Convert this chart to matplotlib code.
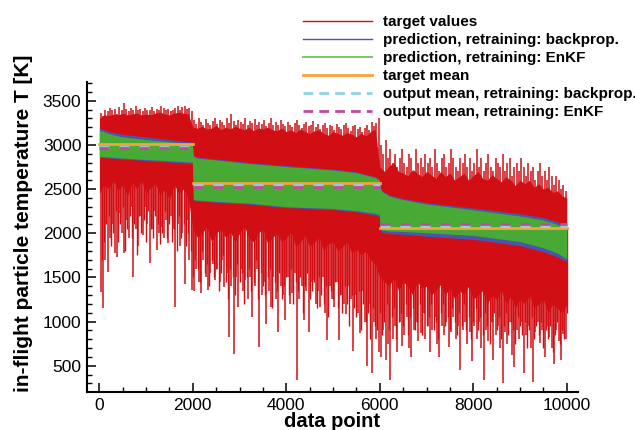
import numpy as np
import matplotlib
matplotlib.use('Agg')
import matplotlib.pyplot as plt
from matplotlib.lines import Line2D

plt.rcParams['font.family'] = ['Liberation Sans', 'DejaVu Sans']

# data point index where the three operating points begin / end
seg_edges = [0, 2000, 6000, 10000]

# target values: solid part of the red band, upper and lower edge (every 100 points)
env_x = np.arange(0, 10001, 100)
target_top = [3300, 3340, 3330, 3350, 3340, 3360, 3340, 3350, 3360, 3340,
              3350, 3340, 3360, 3370, 3350, 3340, 3360, 3370, 3360, 3350,
              3200, 3190, 3210, 3180, 3190, 3220, 3170, 3200, 3180, 3210,
              3190, 3170, 3200, 3160, 3190, 3180, 3200, 3170, 3160, 3190,
              3150, 3170, 3140, 3180, 3150, 3130, 3160, 3170, 3130, 3110,
              3150, 3130, 3110, 3140, 3120, 3090, 3130, 3100, 3150, 3180,
              2750, 2700, 2760, 2800, 2700, 2680, 2650, 2720, 2680, 2640,
              2700, 2660, 2620, 2700, 2640, 2680, 2600, 2640, 2680, 2600,
              2650, 2700, 2620, 2600, 2660, 2620, 2580, 2640, 2600, 2540,
              2600, 2560, 2600, 2520, 2560, 2500, 2520, 2460, 2480, 2420,
              2400]
target_core = [2450, 2550, 2500, 2600, 2480, 2550, 2420, 2580, 2500, 2600,
               2450, 2520, 2560, 2430, 2500, 2380, 2550, 2450, 2500, 2400,
               2050, 1950, 2000, 2080, 1900, 2000, 2050, 1950, 2020, 1900,
               2000, 2080, 1950, 1900, 2000, 2050, 1880, 1950, 2000, 1900,
               1950, 2020, 1850, 1900, 1980, 1850, 1900, 1950, 1800, 1880,
               1900, 1800, 1850, 1900, 1780, 1820, 1750, 1800, 1700, 1650,
               1500, 1450, 1400, 1500, 1350, 1450, 1400, 1300, 1450, 1380,
               1400, 1300, 1350, 1420, 1300, 1380, 1250, 1350, 1300, 1400,
               1250, 1300, 1350, 1200, 1300, 1250, 1350, 1200, 1280, 1150,
               1250, 1200, 1300, 1150, 1200, 1250, 1100, 1200, 1150, 1100,
               1200]

# single excursions of the target values, low and high end (every 50 points)
spike_x = np.arange(25, 10000, 50)
spike_lo = [1330, 1150, 1700, 1560, 1950, 2100, 1780, 1730, 2230, 2000,
            1780, 2150, 1950, 2300, 1500, 2050, 1850, 2200, 1980, 2300,
            2100, 1660, 2050, 2250, 1810, 2000, 2070, 1950, 2150, 1890,
            2200, 2050, 1170, 2100, 1850, 2000, 1430, 2150, 1700, 1360,
            1350, 1600, 1450, 1320, 1700, 1500, 1360, 1550, 1650, 1470,
            1600, 1450, 1700, 1390, 1550, 820, 1400, 630, 1500, 1170,
            1600, 1350, 1470, 1250, 1500, 1050, 1400, 1600, 710, 1300,
            1450, 970, 1350, 1170, 1500, 1250, 880, 1400, 1300, 1020,
            1500, 1200, 1320, 1550, 340, 1250, 1400, 1020, 1350, 880,
            1450, 1470, 1200, 1350, 1170, 1500, 1100, 790, 1400, 1250,
            1170, 1450, 790, 1300, 1200, 1090, 1400, 1250, 670, 1300,
            1100, 870, 1350, 1000, 500, 1200, 420, 1000, 800, 650,
            600, 900, 560, 750, 340, 800, 950, 650, 1000, 720,
            850, 1050, 700, 600, 900, 1000, 780, 870, 1100, 800,
            950, 660, 900, 1050, 750, 600, 950, 850, 1000, 715,
            880, 1050, 800, 950, 450, 900, 1000, 750, 880, 550,
            950, 800, 1000, 700, 340, 900, 780, 1000, 560, 850,
            950, 700, 300, 880, 750, 1000, 620, 490, 900, 800,
            1000, 420, 850, 950, 700, 310, 880, 1000, 760, 900,
            600, 950, 820, 700, 520, 900, 780, 560, 860, 800]
spike_hi = [3360, 3330, 3400, 3380, 3420, 3390, 3410, 3350, 3430, 3400,
            3470, 3410, 3380, 3420, 3400, 3440, 3390, 3410, 3380, 3420,
            3400, 3390, 3430, 3380, 3410, 3400, 3440, 3420, 3390, 3410,
            3380, 3400, 3420, 3440, 3400, 3430, 3440, 3410, 3420, 3380,
            3280, 3240, 3300, 3260, 3230, 3290, 3250, 3220, 3270, 3310,
            3240, 3280, 3260, 3230, 3300, 3250, 3350, 3270, 3230, 3280,
            3260, 3240, 3300, 3220, 3270, 3250, 3290, 3230, 3260, 3240,
            3280, 3210, 3250, 3300, 3230, 3260, 3220, 3280, 3240, 3210,
            3260, 3230, 3200, 3250, 3280, 3220, 3190, 3240, 3260, 3210,
            3230, 3270, 3200, 3240, 3180, 3220, 3250, 3190, 3230, 3210,
            3170, 3240, 3200, 3180, 3220, 3250, 3190, 3160, 3210, 3230,
            3180, 3200, 3150, 3190, 3230, 3170, 3260, 3210, 3250, 3300,
            3000, 2900, 3050, 2850, 2950, 2800, 2900, 2750, 2850, 2950,
            2800, 2750, 2900, 2850, 2700, 2950, 2800, 2850, 2750, 2900,
            2800, 2850, 2750, 2950, 2800, 2700, 2850, 2900, 2750, 2800,
            2950, 2850, 2750, 2700, 2850, 2800, 2900, 2750, 2850, 2700,
            2800, 2950, 2750, 2850, 2700, 2800, 2900, 2750, 2700, 2850,
            2800, 2750, 2900, 2700, 2800, 2850, 2650, 2750, 2800, 2700,
            2850, 2750, 2650, 2800, 2700, 2750, 2600, 2700, 2800, 2650,
            2700, 2600, 2750, 2650, 2550, 2650, 2600, 2500, 2550, 2480]

# shorter downward excursions in between (every 50 points)
spike2_x = np.arange(50, 10001, 50)
spike2_lo = [1700, 1900, 2100, 2200, 1850, 2000, 2250, 1900, 2100, 2300,
             1800, 2050, 2200, 1950, 2100, 1750, 2200, 2000, 2150, 1900,
             2250, 2050, 1950, 2200, 2100, 1880, 2000, 2250, 1950, 2100,
             1900, 2050, 1800, 2200, 1950, 2100, 1850, 2000, 1800,
             1500, 1700, 1600, 1450, 1800, 1550, 1650, 1400, 1700, 1500,
             1600, 1350, 1550, 1750, 1450, 1250, 1600, 1500, 1300, 1650,
             1450, 1550, 1200, 1500, 1600, 1350, 1450, 1700, 1250, 1550,
             1400, 1300, 1500, 1600, 1150, 1450, 1350, 1550, 1250, 1400,
             1500, 1300, 1600, 1200, 1450, 1350, 1500, 1100, 1400, 1550,
             1250, 1350, 1450, 1150, 1500, 1300, 1200, 1400, 1050, 1350,
             1250, 1450, 1150, 1300, 1100, 1400, 1200, 950, 1300, 1150,
             1050, 1350, 900, 1200, 1000, 1100, 800, 1150, 950, 900,
             1100, 850, 1000, 1200, 900, 1050, 1150, 800, 1000, 1100,
             950, 1200, 850, 1050, 1150, 900, 1000, 1200, 850, 1100,
             950, 1050, 1200, 900, 1000, 800, 1100, 1200, 950, 1050,
             900, 1150, 1000, 850, 1100, 950, 1200, 900, 1050, 800,
             1000, 1150, 900, 1050, 850, 1100, 950, 750, 1000, 1100,
             900, 1050, 800, 950, 1100, 850, 1000, 900, 750, 1050,
             950, 850, 1000, 700, 900, 1050, 800, 950, 850, 1000,
             700, 900, 800, 950, 650, 850, 1000, 750, 900, 800,
             1100]

# network predictions: upper / lower edge of the prediction bands
pred_x = [0, 250, 500, 1000, 1500, 1990,
          2010, 2100, 2500, 3200, 4000, 5000, 5500, 5900, 5990,
          6010, 6050, 6200, 6500, 7000, 8000, 9000, 9500, 9800, 10000]
bp_top = [3190, 3145, 3120, 3090, 3060, 3030,
          2880, 2860, 2840, 2800, 2765, 2725, 2695, 2640, 2610,
          2520, 2480, 2432, 2392, 2345, 2285, 2220, 2178, 2130, 2075]
bp_bot = [2860, 2850, 2840, 2822, 2805, 2788,
          2372, 2366, 2350, 2330, 2290, 2268, 2240, 2205, 2185,
          2030, 2005, 1995, 1988, 1965, 1930, 1860, 1790, 1730, 1680]
enkf_top = [3165, 3120, 3090, 3060, 3035, 3010,
            2870, 2850, 2830, 2790, 2755, 2715, 2685, 2630, 2600,
            2510, 2470, 2420, 2380, 2330, 2265, 2195, 2150, 2100, 2050]
enkf_bot = [2870, 2860, 2850, 2835, 2820, 2805,
            2380, 2375, 2360, 2340, 2300, 2280, 2255, 2225, 2210,
            2060, 2035, 2025, 2020, 2005, 1975, 1905, 1835, 1775, 1710]

# means per operating point
target_mean = [3005, 2565, 2058]
bp_mean = [2980, 2542, 2082]
enkf_mean = [2962, 2520, 2100]

c_red = '#d10e14'
c_blue = '#4a55ad'
c_green = '#48aa34'
c_orange = '#f3a43c'
c_cyan = '#8dd3e6'
c_mag = '#c24a9c'

fig = plt.figure(figsize=(6.35, 4.3), dpi=100)
ax = fig.add_axes([87/635, 38/430, 491/635, 310/430])

ax.fill_between(env_x, target_core, target_top, color=c_red, lw=0, zorder=1)
ax.vlines(spike_x, spike_lo, spike_hi, color=c_red, lw=1.1, zorder=1)
seg2_idx = np.searchsorted(seg_edges, spike2_x, side='right') - 1
seg2_idx = np.minimum(seg2_idx, 2)
ax.vlines(spike2_x, spike2_lo, np.array(target_mean)[seg2_idx],
          color=c_red, lw=1.0, zorder=1)

ax.fill_between(pred_x, bp_bot, bp_top, color=c_blue, lw=0, zorder=2)
ax.fill_between(pred_x, enkf_bot, enkf_top, color=c_green, lw=0, zorder=3)

for i in range(3):
    xs = [seg_edges[i], seg_edges[i + 1]]
    ax.plot(xs, [target_mean[i]] * 2, color=c_orange, lw=2.0, zorder=4)
    ax.plot(xs, [bp_mean[i]] * 2, color=c_cyan, lw=2.0, ls=(0, (3.6, 3.6)), zorder=5)
    ax.plot(xs, [enkf_mean[i]] * 2, color=c_mag, lw=2.0, ls=(0, (3.6, 3.6)), zorder=6)

ax.set_xlim(-265, 10240)
ax.set_ylim(202, 3712)
ax.set_xticks(range(0, 10001, 2000))
ax.set_xticks(range(0, 10001, 500), minor=True)
ax.set_yticks(range(500, 3501, 500))
ax.set_yticks(range(300, 3701, 100), minor=True)
ax.spines['top'].set_visible(False)
ax.spines['right'].set_visible(False)
for s in ['left', 'bottom']:
    ax.spines[s].set_linewidth(1.5)
ax.tick_params(which='major', direction='in', length=6.5, width=1.1, labelsize=12.5, pad=4)
ax.tick_params(which='minor', direction='in', length=3.5, width=1.0)

ax.set_xlabel('data point', fontsize=14.5, fontweight='bold')
ax.set_ylabel('in-flight particle temperature T [K]', fontsize=15.0, fontweight='bold')
ax.xaxis.set_label_coords(0.5, -0.066)
ax.yaxis.set_label_coords(-0.11, 0.545)

handles = [Line2D([], [], color=c_red, lw=1.0),
           Line2D([], [], color=c_blue, lw=1.0),
           Line2D([], [], color='#7cc86a', lw=1.5),
           Line2D([], [], color=c_orange, lw=2.0),
           Line2D([], [], color=c_cyan, lw=2.0, ls=(0, (3.5, 2.2))),
           Line2D([], [], color=c_mag, lw=2.0, ls=(0, (3.5, 2.2)))]
labels = ['target values', 'prediction, retraining: backprop.',
          'prediction, retraining: EnKF', 'target mean',
          'output mean, retraining: backprop.', 'output mean, retraining: EnKF']
fig.legend(handles, labels, loc='upper left', bbox_to_anchor=(303/635, 1 - 15/430),
           frameon=False, prop={'weight': 'bold', 'size': 11.0},
           handlelength=4.5, handletextpad=0.72, labelspacing=0.26,
           borderpad=0, borderaxespad=0)

fig.savefig('out.png', dpi=100)
